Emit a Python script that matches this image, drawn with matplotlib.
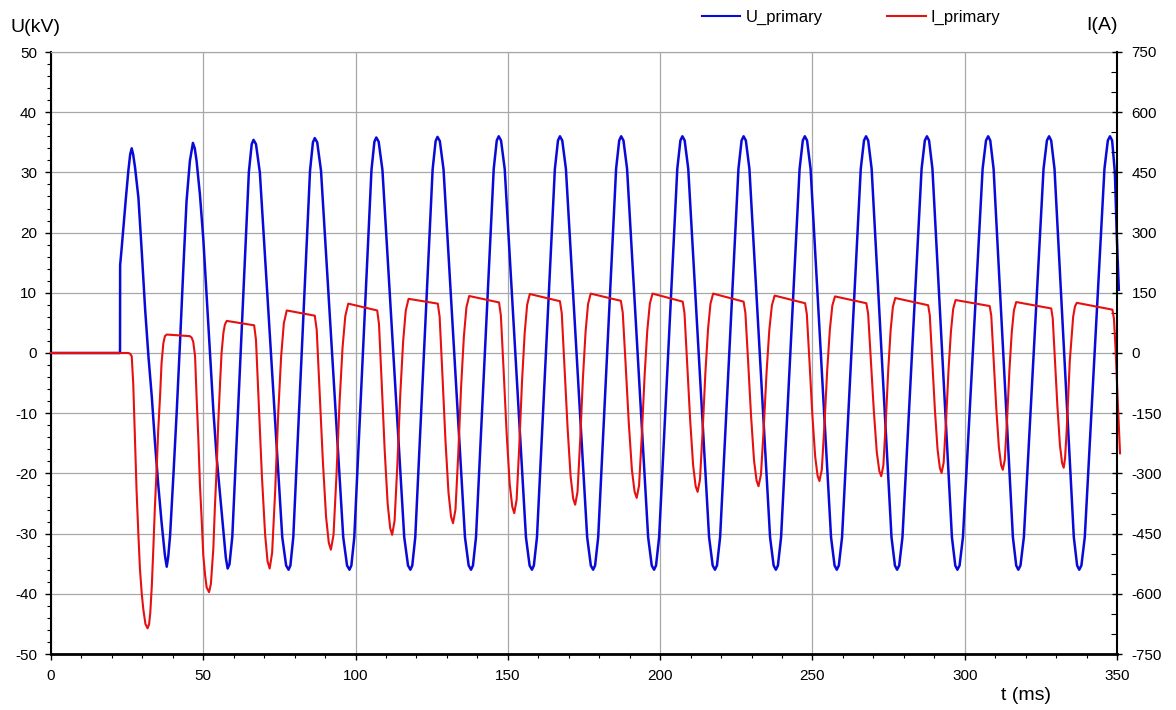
import matplotlib.pyplot as plt
from matplotlib.ticker import MultipleLocator
from matplotlib.lines import Line2D

plt.rcParams['font.family'] = ['Liberation Sans', 'DejaVu Sans']
plt.rcParams['axes.unicode_minus'] = False

# U_primary, kV
u_t = [0.0, 22.66, 22.7, 23.2, 23.75, 24.6, 25.4, 26.0, 26.5,
       27.0, 27.6, 28.7, 29.8, 30.9, 32.0, 33.1, 34.1, 35.2, 36.3, 37.4, 38.0,
       38.5, 39.1, 40.2, 41.3, 42.4, 43.5, 44.5, 45.6, 46.6,
       47.2, 47.8, 48.9, 50.0, 51.1, 52.2, 53.3, 54.4, 55.5, 56.6, 57.4, 58.0,
       58.6, 59.53, 62.25, 64.97, 65.9, 66.5,
       67.3, 68.57, 72.25, 75.93, 77.2, 78.0,
       78.6, 79.55, 82.3, 85.05, 86.0, 86.6,
       87.4, 88.65, 92.3, 95.95, 97.2, 98.0,
       98.62, 99.58, 102.4, 105.22, 106.18, 106.8,
       107.58, 108.82, 112.4, 115.98, 117.22, 118.0,
       118.62, 119.6, 122.45, 125.3, 126.28, 126.9,
       127.67, 128.88, 132.4, 135.92, 137.13, 137.9,
       138.54, 139.54, 142.45, 145.36, 146.36, 147.0,
       147.76, 148.96, 152.45, 155.94, 157.14, 157.9,
       158.54, 159.56, 162.5, 165.44, 166.46, 167.1,
       167.86, 169.06, 172.55, 176.04, 177.24, 178.0,
       178.64, 179.66, 182.6, 185.54, 186.56, 187.2,
       187.96, 189.14, 192.6, 196.06, 197.24, 198.0,
       198.65, 199.67, 202.65, 205.63, 206.65, 207.3,
       208.05, 209.23, 212.65, 216.07, 217.25, 218.0,
       218.66, 219.69, 222.7, 225.71, 226.74, 227.4,
       228.14, 229.31, 232.7, 236.09, 237.26, 238.0,
       238.67, 239.71, 242.75, 245.79, 246.84, 247.5,
       248.24, 249.39, 252.75, 256.11, 257.27, 258.0,
       258.67, 259.73, 262.8, 265.87, 266.93, 267.6,
       268.31, 269.44, 272.7, 275.96, 277.09, 277.8,
       278.49, 279.56, 282.7, 285.84, 286.91, 287.6,
       288.3, 289.4, 292.6, 295.8, 296.9, 297.6,
       298.31, 299.42, 302.65, 305.88, 306.99, 307.7,
       308.39, 309.48, 312.65, 315.82, 316.91, 317.6,
       318.31, 319.42, 322.65, 325.88, 326.99, 327.7,
       328.39, 329.48, 332.65, 335.82, 336.91, 337.6,
       338.31, 339.42, 342.65, 345.88, 346.99, 347.7,
       348.4, 349.3, 349.9, 350.6]
u_kv = [0.0, 0.0, 14.6, 17.4, 20.7, 25.8, 30.3, 33.0, 34.0,
        32.9, 30.8, 25.8, 16.8, 7.3, -0.6, -7.3, -14.6, -21.8, -28.1, -33.6, -35.5,
        -33.8, -30.3, -20.2, -9.5, 2.2, 14.6, 25.2, 31.9, 34.9,
        34.0, 31.9, 26.3, 19.0, 9.5, 0.0, -9.5, -17.4, -23.5, -29.5, -34.0, -35.8,
        -35.1, -30.5, -0.2, 30.1, 34.7, 35.4,
        34.7, 30.0, -0.3, -30.6, -35.3, -36.0,
        -35.3, -30.6, -0.15, 30.3, 35.0, 35.7,
        35.0, 30.3, -0.15, -30.6, -35.3, -36.0,
        -35.3, -30.6, -0.1, 30.4, 35.1, 35.8,
        35.1, 30.4, -0.1, -30.6, -35.3, -36.0,
        -35.3, -30.6, 0.0, 30.5, 35.2, 35.9,
        35.2, 30.5, 0.0, -30.6, -35.3, -36.0,
        -35.3, -30.6, 0.0, 30.6, 35.3, 36.0,
        35.3, 30.6, 0.0, -30.6, -35.3, -36.0,
        -35.3, -30.6, 0.0, 30.6, 35.3, 36.0,
        35.3, 30.6, 0.0, -30.6, -35.3, -36.0,
        -35.3, -30.6, 0.0, 30.6, 35.3, 36.0,
        35.3, 30.6, 0.0, -30.6, -35.3, -36.0,
        -35.3, -30.6, 0.0, 30.6, 35.3, 36.0,
        35.3, 30.6, 0.0, -30.6, -35.3, -36.0,
        -35.3, -30.6, 0.0, 30.6, 35.3, 36.0,
        35.3, 30.6, 0.0, -30.6, -35.3, -36.0,
        -35.3, -30.6, 0.0, 30.6, 35.3, 36.0,
        35.3, 30.6, 0.0, -30.6, -35.3, -36.0,
        -35.3, -30.6, 0.0, 30.6, 35.3, 36.0,
        35.3, 30.6, 0.0, -30.6, -35.3, -36.0,
        -35.3, -30.6, 0.0, 30.6, 35.3, 36.0,
        35.3, 30.6, 0.0, -30.6, -35.3, -36.0,
        -35.3, -30.6, 0.0, 30.6, 35.3, 36.0,
        35.3, 30.6, 0.0, -30.6, -35.3, -36.0,
        -35.3, -30.6, 0.0, 30.6, 35.3, 36.0,
        35.3, 30.6, 0.0, -30.6, -35.3, -36.0,
        -35.3, -30.6, 0.0, 30.6, 35.3, 36.0,
        35.3, 30.0, 20.0, 10.5]

# I_primary, A
i_t = [0.0, 25.4, 26.0,
       26.5, 27.0, 27.6, 28.1, 28.7, 29.2, 29.8, 30.3, 31.0, 31.7, 32.2, 32.6,
       33.1, 33.6, 34.1, 34.7, 35.2, 35.8, 36.3, 36.9, 37.4, 38.0,
       45.6, 46.2, 46.7, 47.3, 47.8, 48.4, 48.9, 49.5, 50.0, 50.6, 51.1, 51.9,
       52.5, 53.3, 53.8, 54.4, 54.9, 55.5, 56.0, 56.6, 57.1, 57.7,
       66.7, 67.3, 68.2, 69.25, 70.3, 71.1, 71.8, 72.6, 73.6, 74.6, 75.55, 76.45, 77.4,
       86.6, 87.24, 88.19, 89.25, 90.31, 91.21, 91.9, 92.76, 93.72, 94.75, 95.72, 96.63, 97.6,
       107.1, 107.69, 108.57, 109.55, 110.53, 111.36, 112.0, 112.81, 113.73, 114.7, 115.62, 116.48, 117.4,
       127.0, 127.6, 128.5, 129.5, 130.5, 131.35, 132.0, 132.8, 133.7, 134.65, 135.55, 136.4, 137.3,
       147.1, 147.7, 148.6, 149.6, 150.6, 151.45, 152.1, 152.87, 153.73, 154.65, 155.52, 156.33, 157.2,
       167.1, 167.7, 168.6, 169.6, 170.6, 171.45, 172.1, 172.87, 173.73, 174.65, 175.52, 176.33, 177.2,
       187.1, 187.72, 188.66, 189.7, 190.74, 191.62, 192.3, 193.08, 193.96, 194.9, 195.78, 196.62, 197.5,
       207.4, 207.99, 208.87, 209.85, 210.83, 211.66, 212.3, 213.07, 213.93, 214.85, 215.72, 216.53, 217.4,
       227.4, 227.99, 228.87, 229.85, 230.83, 231.66, 232.3, 233.1, 234.0, 234.95, 235.85, 236.7, 237.6,
       247.6, 248.16, 249.01, 249.95, 250.89, 251.69, 252.3, 253.07, 253.93, 254.85, 255.72, 256.53, 257.4,
       267.7, 268.29, 269.17, 270.15, 271.13, 271.96, 272.6, 273.29, 274.07, 274.9, 275.68, 276.42, 277.2,
       288.0, 288.53, 289.32, 290.2, 291.08, 291.83, 292.4, 293.09, 293.87, 294.7, 295.48, 296.22, 297.0,
       308.2, 308.72, 309.49, 310.35, 311.21, 311.94, 312.5, 313.16, 313.91, 314.7, 315.45, 316.15, 316.9,
       328.4, 328.89, 329.63, 330.45, 331.27, 331.97, 332.5, 332.95, 333.5, 334.0, 334.5, 335.1, 335.6, 336.2, 336.8,
       348.5, 349.0, 349.6, 350.3, 351.0]
i_a = [0, 0, -2,
       -8, -76, -218, -344, -454, -538, -600, -638, -675, -686, -676, -647,
       -580, -487, -386, -286, -193, -109, -25, 25, 42, 46,
       42, 38, 28, -8, -109, -218, -328, -420, -504, -554, -584, -596,
       -575, -487, -386, -286, -176, -76, 0, 50, 71, 80,
       69, 33, -125, -307, -452, -519, -537, -498, -344, -151, -10, 74, 106,
       93, 58, -94, -268, -408, -473, -490, -453, -306, -122, 13, 92, 123,
       106, 72, -73, -241, -375, -436, -453, -418, -277, -100, 29, 106, 135,
       123, 90, -52, -216, -347, -408, -424, -390, -254, -84, 40, 114, 142,
       126, 94, -42, -200, -326, -383, -399, -366, -235, -71, 49, 120, 147,
       129, 99, -33, -185, -307, -363, -378, -346, -220, -62, 53, 122, 148,
       130, 101, -27, -174, -292, -346, -361, -330, -208, -56, 56, 123, 148,
       128, 100, -24, -166, -280, -332, -346, -316, -198, -50, 59, 123, 148,
       128, 100, -19, -157, -268, -318, -332, -303, -189, -47, 58, 119, 143,
       124, 97, -18, -151, -257, -306, -319, -291, -181, -43, 58, 118, 141,
       124, 98, -14, -143, -247, -294, -307, -280, -174, -41, 57, 115, 137,
       119, 94, -15, -140, -240, -286, -299, -273, -170, -40, 54, 110, 132,
       117, 93, -14, -136, -234, -279, -291, -266, -166, -40, 52, 106, 127,
       111, 87, -16, -135, -230, -274, -286, -262, -190, -105, -20, 42, 90, 116, 125,
       108, 85, 0, -130, -250]

W, H = 1176, 710
fig = plt.figure(figsize=(W / 100, H / 100), dpi=100)
ax = fig.add_axes([51 / W, 56 / H, 1066 / W, 602 / H])
ax2 = ax.twinx()

blue = '#0a0ad8'
red = '#e61010'
grid_c = '#a8a8a8'

ax.plot(u_t, u_kv, color=blue, lw=1.8, clip_on=False, solid_joinstyle='round')
ax2.plot(i_t, i_a, color=red, lw=1.5, clip_on=False, solid_joinstyle='round')

ax.set_xlim(0, 350)
ax.set_ylim(-50, 50)
ax2.set_ylim(-750, 750)

ax.xaxis.set_major_locator(MultipleLocator(50))
ax.xaxis.set_minor_locator(MultipleLocator(10))
ax.yaxis.set_major_locator(MultipleLocator(10))
ax.yaxis.set_minor_locator(MultipleLocator(2))
ax2.yaxis.set_major_locator(MultipleLocator(150))
ax2.yaxis.set_minor_locator(MultipleLocator(50))

ax.grid(True, which='major', color=grid_c, lw=0.9)

ax.tick_params(axis='y', which='major', direction='out', length=4, width=1,
               labelsize=11, pad=6, colors='black')
ax.tick_params(axis='x', which='major', direction='out', length=4, width=1,
               labelsize=11, pad=7, colors='black')
ax.tick_params(which='minor', direction='out', length=3, width=0.8)
ax2.tick_params(axis='y', which='major', direction='inout', length=7, width=1,
                labelsize=11, pad=7)
ax2.tick_params(axis='y', which='minor', direction='in', length=4, width=0.8)

ax.spines['right'].set_visible(False)
ax.spines['top'].set_color(grid_c)
ax.spines['top'].set_linewidth(0.9)
ax.spines['left'].set_linewidth(1.5)
ax.spines['bottom'].set_linewidth(2)
for s in ['top', 'left', 'bottom']:
    ax2.spines[s].set_visible(False)
ax2.spines['right'].set_linewidth(1.5)

handles = [Line2D([], [], color=blue, lw=1.5), Line2D([], [], color=red, lw=1.5)]
fig.legend(handles, ['U_primary', 'I_primary'], loc='center left',
           bbox_to_anchor=(702 / W, 1 - 17 / H), ncol=2, frameon=False,
           fontsize=12, handlelength=2.3, handletextpad=0.3,
           columnspacing=3.9, borderpad=0, borderaxespad=0)

fig.text(10 / W, 1 - 28 / H, 'U(kV)', fontsize=14, ha='left', va='center')
fig.text(1118 / W, 1 - 25 / H, 'I(A)', fontsize=14, ha='right', va='center')
fig.text(1026 / W, 1 - 695 / H, 't (ms)', fontsize=14, ha='center', va='center')

fig.savefig('out.png', dpi=100)
